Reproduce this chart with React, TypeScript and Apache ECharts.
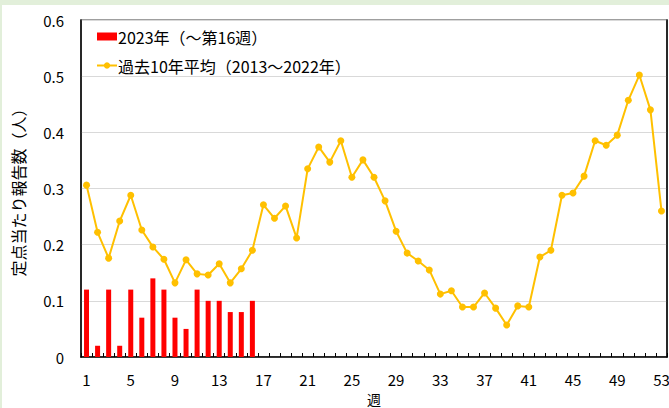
import React, { useEffect, useRef } from "react";
import * as echarts from "echarts";

const weeks: string[] = Array.from({ length: 53 }, (_, i) => String(i + 1));

const reports2023: number[] = [
  0.12, 0.02, 0.12, 0.02, 0.12, 0.07, 0.14, 0.12, 0.07, 0.05, 0.12, 0.1, 0.1, 0.08, 0.08, 0.1,
];

const avg10y: number[] = [
  0.306, 0.222, 0.176, 0.242, 0.288, 0.226, 0.196, 0.174, 0.132, 0.173,
  0.148, 0.146, 0.166, 0.132, 0.157, 0.19, 0.271, 0.247, 0.269, 0.212,
  0.335, 0.374, 0.347, 0.385, 0.32, 0.351, 0.32, 0.278, 0.224, 0.185,
  0.171, 0.155, 0.112, 0.118, 0.089, 0.089, 0.114, 0.087, 0.057, 0.091,
  0.089, 0.178, 0.19, 0.288, 0.292, 0.322, 0.385, 0.377, 0.395, 0.457,
  0.502, 0.44, 0.26,
];

const yTicks: number[] = [0, 0.1, 0.2, 0.3, 0.4, 0.5, 0.6];

const FONT = '"Noto Sans CJK JP", "Noto Sans", sans-serif';

export default function App() {
  const ref = useRef<HTMLDivElement>(null);
  useEffect(() => {
    if (!ref.current) return;
    const chart = echarts.init(ref.current, undefined, { renderer: "svg" });
    chart.setOption({
      animation: false,
      backgroundColor: "#ffffff",
      textStyle: { fontFamily: FONT },
      graphic: [
        { type: "rect", left: 0, top: 0, shape: { width: 669, height: 5 }, style: { fill: "#e2efda" }, silent: true },
        { type: "rect", left: 0, top: 0, shape: { width: 2, height: 408 }, style: { fill: "#e2efda" }, silent: true },
      ],
      legend: {
        left: 96,
        top: 27,
        orient: "vertical",
        padding: 0,
        itemGap: 10,
        itemWidth: 20,
        itemHeight: 8,
        textStyle: { fontSize: 16, color: "#000", fontFamily: FONT, lineHeight: 19, padding: [0, 0, 0, -4] },
        data: [
          { name: "2023年（～第16週）", icon: "rect" },
          { name: "過去10年平均（2013～2022年）" },
        ],
      },
      grid: {
        left: 81,
        right: 2,
        top: 20,
        bottom: 51,
        show: true,
        borderColor: "#808080",
        borderWidth: 1.5,
        outerBoundsMode: "none",
        containLabel: false,
      },
      xAxis: {
        type: "category",
        data: weeks,
        boundaryGap: true,
        name: "週",
        nameLocation: "middle",
        nameGap: 32,
        nameTextStyle: { fontSize: 14, color: "#000", fontFamily: FONT },
        axisLine: { show: true, lineStyle: { color: "#000", width: 1.5 } },
        axisTick: { show: true, inside: true, length: 4, alignWithLabel: false, interval: 0, lineStyle: { color: "#000" } },
        axisLabel: { interval: 3, fontSize: 15, color: "#000", margin: 15, fontFamily: FONT },
        splitLine: { show: false },
      },
      yAxis: [
        {
          type: "value",
          min: yTicks[0],
          max: yTicks[yTicks.length - 1],
          interval: 0.1,
          name: "定点当たり報告数（人）",
          nameLocation: "middle",
          nameRotate: 90,
          nameGap: 55,
          nameTextStyle: { fontSize: 16, color: "#000", fontFamily: FONT },
          axisLine: { show: true, lineStyle: { color: "#000", width: 1.5 } },
          axisTick: { show: false },
          axisLabel: {
            fontSize: 15,
            color: "#000",
            margin: 17,
            fontFamily: FONT,
            formatter: (v: number) => (v === 0 ? "0" : v.toFixed(1)),
          },
          splitLine: { show: true, lineStyle: { color: "#d9d9d9", width: 1.2 } },
        },
        {
          type: "value",
          position: "right",
          min: yTicks[0],
          max: yTicks[yTicks.length - 1],
          interval: 0.1,
          axisLine: { show: true, lineStyle: { color: "#000", width: 1.5 } },
          axisTick: { show: false },
          axisLabel: { show: false },
          splitLine: { show: false },
        },
      ],
      series: [
        {
          name: "2023年（～第16週）",
          type: "bar",
          data: reports2023,
          barWidth: 5,
          itemStyle: { color: "#ff0000" },
          yAxisIndex: 0,
        },
        {
          name: "過去10年平均（2013～2022年）",
          type: "line",
          data: avg10y,
          symbol: "circle",
          symbolSize: 7,
          lineStyle: { color: "#ffc000", width: 2 },
          itemStyle: { color: "#ffc000" },
          yAxisIndex: 0,
        },
      ],
    });
    return () => chart.dispose();
  }, []);
  return <div ref={ref} style={{ width: 669, height: 408, position: "absolute", left: 0, top: 0 }} />;
}
